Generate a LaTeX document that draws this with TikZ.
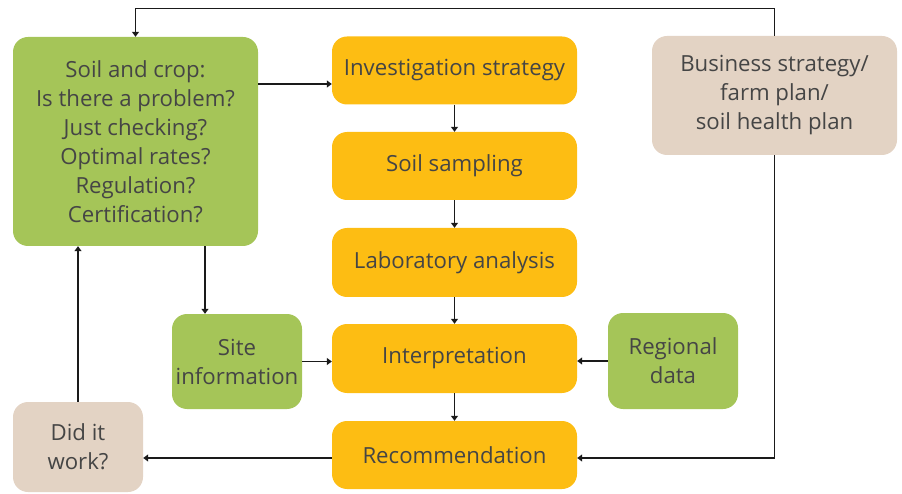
\documentclass[tikz,border=0pt]{standalone}
\usepackage{fontspec}
\setmainfont{Open Sans}
\usetikzlibrary{arrows.meta,calc}
\definecolor{bgreen}{HTML}{A5C558}
\definecolor{borange}{HTML}{FDBD13}
\definecolor{bbeige}{HTML}{E3D3C4}
\definecolor{btext}{HTML}{454545}
\definecolor{bline}{HTML}{1A1A1A}
\tikzset{
  box/.style={rectangle, rounded corners=15pt, inner sep=0pt, align=center, text=btext,
    font=\fontsize{22.2}{29}\selectfont},
  gbox/.style={box, fill=bgreen},
  obox/.style={box, fill=borange},
  bbox/.style={box, fill=bbeige},
  arr/.style={draw=bline, line width=1.2pt, -{Triangle[length=5pt,width=7pt]}},
}
\begin{document}
\begin{tikzpicture}[x=1pt,y=-1pt]
\useasboundingbox (0,0) rectangle (902,494);
\node[gbox, minimum width=245pt, minimum height=209pt] (soil) at (135.5,141.5)
  {Soil and crop:\\Is there a problem?\\Just checking?\\Optimal rates?\\Regulation?\\Certification?};
\node[obox, minimum width=245pt, minimum height=68pt] (inv) at (454.5,70.5) {Investigation strategy};
\node[obox, minimum width=245pt, minimum height=68pt] (samp) at (454.5,166) {Soil sampling};
\node[obox, minimum width=245pt, minimum height=69pt] (lab) at (454.5,262.5) {Laboratory analysis};
\node[obox, minimum width=245pt, minimum height=69pt] (interp) at (454.5,358.5) {Interpretation};
\node[obox, minimum width=245pt, minimum height=68pt] (rec) at (454.5,455) {Recommendation};
\node[bbox, minimum width=245pt, minimum height=119pt] (biz) at (774.5,95.5)
  {Business strategy/\\farm plan/\\soil health plan};
\node[gbox, minimum width=130pt, minimum height=96pt] (reg) at (673,361) {Regional\\data};
\node[gbox, minimum width=130pt, minimum height=95pt] (site) at (237,361.5) {Site\\information};
\node[bbox, minimum width=130pt, minimum height=90pt] (did) at (78,447) {Did it\\work?};
\draw[arr] ([yshift=57.5pt]soil.east) -- ([yshift=57.5pt]soil.east -| inv.west);
\draw[arr] (inv) -- (samp);
\draw[arr] (samp) -- (lab);
\draw[arr] (lab) -- (interp);
\draw[arr] (interp) -- (rec);
\draw[arr] ([xshift=-32pt]site.north |- soil.south) -- ([xshift=-32pt]site.north);
\draw[arr] (site.east) -- (site.east -| interp.west);
\draw[arr] (reg.west) -- (reg.west -| interp.east);
\draw[arr] ([yshift=-3pt]rec.west) -- ([yshift=-3pt]rec.west -| did.east);
\draw[arr] (did.north) -- (did.north |- soil.south);
\draw[arr] (biz.north) -- ++(0,27pt) -| (soil.north);
\draw[arr] (biz.south) |- ([yshift=-3pt]rec.east);
\end{tikzpicture}
\end{document}
